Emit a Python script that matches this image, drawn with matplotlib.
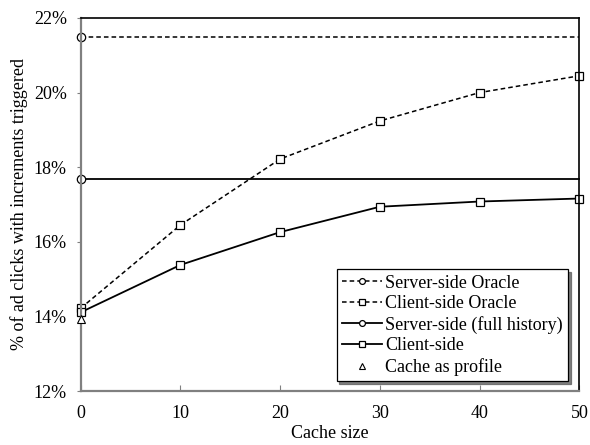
import matplotlib
matplotlib.use("Agg")
import matplotlib.pyplot as plt
from matplotlib.ticker import FuncFormatter

plt.rcParams['font.family'] = ['Liberation Serif', 'DejaVu Serif']
plt.rcParams['font.size'] = 13

cache_sizes = [0, 10, 20, 30, 40, 50]
server_oracle = 21.5
server_full_history = 17.68
client_oracle = [14.22, 16.45, 18.22, 19.24, 20.0, 20.45]
client_side = [14.11, 15.38, 16.26, 16.94, 17.08, 17.16]
cache_as_profile = 13.92

y_ticks = [12, 14, 16, 18, 20, 22]
x_ticks = [0, 10, 20, 30, 40, 50]

fig = plt.figure(figsize=(5.9, 4.45), dpi=100)
ax = fig.add_axes([0.1368, 0.1213, 0.8451, 0.8383])

mk = dict(markerfacecolor='white', markeredgecolor='black', markeredgewidth=0.9, markersize=6)

span = [cache_sizes[0], cache_sizes[-1]]
ax.plot(span, [server_oracle] * 2, color='black', lw=1.1, ls=(0, (3, 2)),
        marker='o', markevery=[0], label='Server-side Oracle', **mk)
ax.plot(cache_sizes, client_oracle, color='black', lw=1.1, ls=(0, (3, 2)),
        marker='s', label='Client-side Oracle', **mk)
ax.plot(span, [server_full_history] * 2, color='black', lw=1.3,
        marker='o', markevery=[0], label='Server-side (full history)', **mk)
ax.plot(cache_sizes, client_side, color='black', lw=1.3,
        marker='s', label='Client-side', **mk)
ax.plot([0], [cache_as_profile], ls='none', marker='^', markerfacecolor='white',
        markeredgecolor='black', markeredgewidth=0.8, markersize=6,
        label='Cache as profile', zorder=5)
for line in ax.lines:
    line.set_clip_on(False)

ax.set_xlim(0, 50)
ax.set_ylim(12, 22)
ax.set_xticks(x_ticks)
ax.set_yticks(y_ticks)
ax.yaxis.set_major_formatter(FuncFormatter(lambda v, p: f"{v:.0f}%"))

for side in ('left', 'bottom'):
    ax.spines[side].set_color('#808080')
    ax.spines[side].set_linewidth(1.6)
for side in ('top', 'right'):
    ax.spines[side].set_color('black')
    ax.spines[side].set_linewidth(1.2)

ax.tick_params(axis='x', direction='in', length=4, color='#808080', width=0.8, pad=10)
ax.tick_params(axis='y', direction='out', length=3, color='#808080', width=0.8, pad=7)

ax.set_xlabel('Cache size', labelpad=2)
ax.set_ylabel('% of ad clicks with increments triggered', labelpad=4)

leg = ax.legend(loc='lower right', bbox_to_anchor=(0.978, 0.026), frameon=True,
                fancybox=False, shadow={'color': '#606060', 'alpha': 0.8},
                edgecolor='black', framealpha=1,
                handlelength=2.2, handletextpad=0.2, borderpad=0.3,
                labelspacing=0.2, borderaxespad=0.0, markerscale=0.7)
leg.get_frame().set_linewidth(0.9)

fig.savefig('out.png', dpi=100)
